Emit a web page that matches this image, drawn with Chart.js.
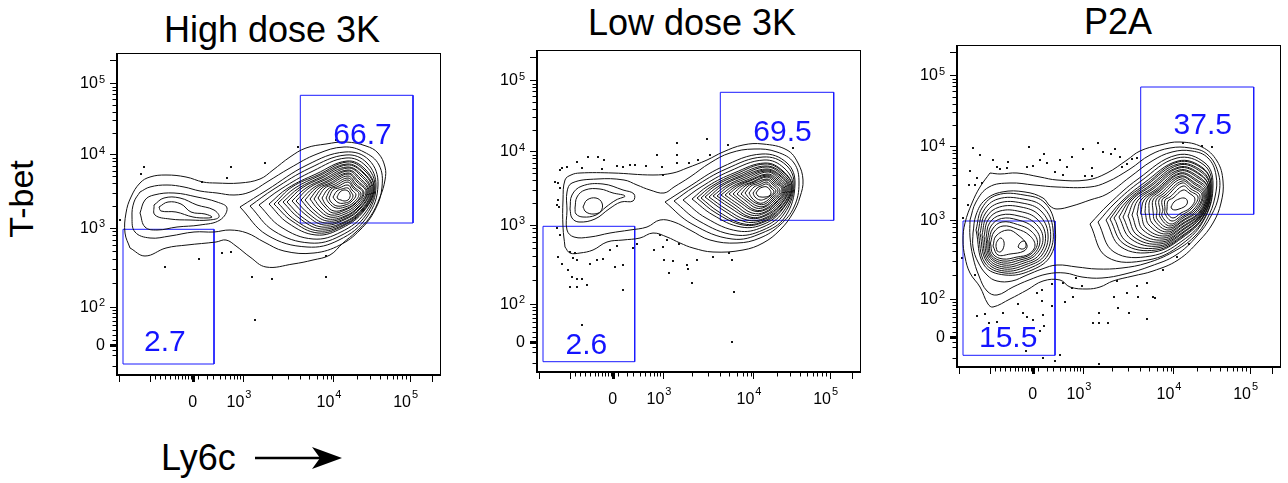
<!DOCTYPE html>
<html>
<head>
<meta charset="utf-8">
<title>T-bet vs Ly6c</title>
<script src="https://cdn.jsdelivr.net/npm/chart.js@4.4.1/dist/chart.umd.min.js"></script>
<style>
  html, body { margin: 0; padding: 0; background: #fff; }
  body { width: 1288px; height: 483px; position: relative; overflow: hidden; font-family: "Liberation Sans", Arial, Helvetica, sans-serif; color: #000; }
  .title { position: absolute; font-size: 36px; line-height: 36px; white-space: nowrap; transform: translateX(-50%); }
  .ylab { position: absolute; left: 21px; top: 199px; font-size: 34px; line-height: 34px; white-space: nowrap; transform: translate(-50%, -50%) rotate(-90deg); }
  .xlab { position: absolute; left: 161px; top: 440px; font-size: 36px; line-height: 36px; white-space: nowrap; }
  canvas { position: absolute; }
</style>
</head>
<body>
<div class="title" style="left:272px;top:12px">High dose 3K</div>
<div class="title" style="left:692px;top:5px">Low dose 3K</div>
<div class="title" style="left:1118px;top:4px">P2A</div>
<div class="ylab">T-bet</div>
<div class="xlab">Ly6c</div>
<svg style="position:absolute;left:250px;top:445px" width="95" height="28">
  <line x1="5" y1="13" x2="70" y2="13" stroke="#000" stroke-width="2.5"/>
  <polygon points="92,13 62,2 70,13 62,24" fill="#000"/>
</svg>
<canvas id="hd" width="391" height="372" style="left:57px;top:48px"></canvas>
<canvas id="ld" width="391" height="372" style="left:477px;top:45px"></canvas>
<canvas id="p2a" width="391" height="372" style="left:897px;top:40px"></canvas>
<script>
// all positions are display channels of the biexponential axes (0..324 across, 0..322 up)

// axis ticks
const xMajorTicks = [2.3, 33, 74.7, 75.7, 76.7, 126.3, 216.3, 293, 314.7];
const xMinorTicks = [38, 43, 48, 53, 58, 61.3, 64.7, 68, 71.3, 73.7, 81.3, 89.7, 96.3, 103, 108, 113, 117, 120.3, 123,
  154.7, 171.3, 183, 192.3, 199.7, 205.7, 210.3, 214, 239.7, 253, 263, 269.7, 275.7, 280.3, 284.7, 288.7];
const xTickLabels = [[75.7, '0', ''], [126.3, '10', '3'], [216.3, '10', '4'], [293, '10', '5']];
const yMajorTicks = [28.8, 30, 31.2, 68.3, 147.5, 220.7, 291.7, 315];
const yMinorTicks = [9, 20, 25, 35, 40, 45, 50, 54.3, 58.3, 61.7, 65, 92.1, 106.1, 116, 123.7, 129.9, 135.2, 139.8, 143.9,
  169.5, 182.4, 191.6, 198.7, 204.5, 209.4, 213.6, 217.3, 242.1, 254.6, 263.4, 270.3, 275.9, 280.7, 284.8, 288.4];
const yTickLabels = [[30, '0', ''], [68.3, '10', '2'], [147.5, '10', '3'], [220.7, '10', '4'], [291.7, '10', '5']];

// ---- High dose 3K ----
const hdOuter = [
  [[13,127],[8,142],[9,162],[14,178],[23,192],[33,198],[49,200],[69,198],[86,193],[99,192],[123,192],[143,196],[156,205],[173,218],[189,227],[209,231],[229,233],[249,229],[261,222],[268,208],[268,195],[263,178],[253,158],[239,143],[226,132],[213,120],[196,115],[176,111],[149,108],[133,118],[119,129],[109,135],[99,133],[70,130],[49,127],[28,119]],
  [[23,183],[33,188],[50,190],[67,188],[83,184],[100,182],[117,180],[133,183],[150,193],[173,207],[200,221],[227,228],[247,223],[262,210],[265,188],[258,165],[243,145],[223,130],[197,122],[167,124],[147,133],[130,142],[113,145],[97,143],[77,143],[53,139],[33,137],[18,143],[15,158],[17,173]]
];
const hdLeft = [
  [[23,162],[28,175],[37,180],[57,182],[80,178],[100,173],[110,167],[103,155],[83,150],[60,148],[40,145],[28,148]],
  [[37,170],[47,177],[63,177],[80,170],[97,165],[102,158],[92,155],[73,155],[53,156],[38,160]],
  [[42,168],[51,173],[64,171],[74,163],[88,161],[95,158],[90,157],[76,158],[59,163],[44,164]]
];
const hdRight = [
  [[123,168],[150,185],[190,210],[228,223],[252,215],[261,190],[250,158],[222,135],[190,128],[150,140]],
  [[133,169],[157,186],[193,207],[229,220],[250,212],[259,189],[249,160],[223,139],[193,132],[157,144]],
  [[142,170],[164,186],[196,204],[229,217],[249,209],[258,188],[248,162],[224,143],[196,136],[164,148]],
  [[152,171],[171,187],[199,201],[230,214],[248,206],[257,187],[247,164],[225,147],[199,140],[171,152]],
  [[157,171],[175,188],[201,200],[230,213],[247,205],[257,187],[247,165],[226,149],[201,142],[175,154]],
  [[161,172],[178,187],[202,199],[230,211],[246,203],[256,186],[246,165],[226,150],[202,144],[178,155]],
  [[166,173],[182,187],[204,198],[230,210],[246,202],[255,186],[246,166],[227,152],[204,146],[182,157]],
  [[170,173],[185,187],[205,197],[230,208],[245,200],[254,185],[245,166],[227,153],[205,148],[185,158]],
  [[175,174],[189,187],[207,196],[231,207],[244,199],[253,185],[244,167],[227,155],[207,150],[189,160]],
  [[179,174],[192,187],[208,195],[231,205],[243,197],[252,184],[243,167],[227,156],[208,152],[192,161]],
  [[184,175],[196,187],[210,194],[231,204],[242,196],[251,184],[242,168],[228,158],[210,154],[195,163]],
  [[188,175],[199,187],[211,193],[231,202],[241,194],[250,183],[241,168],[228,159],[211,156],[198,164]],
  [[193,176],[202,187],[213,192],[231,201],[240,193],[249,183],[240,169],[228,161],[213,158],[201,166]],
  [[197,176],[205,187],[214,191],[231,199],[239,191],[247,182],[239,170],[228,163],[214,160],[204,167]],
  [[201,177],[208,187],[216,190],[231,197],[238,190],[246,182],[238,171],[228,165],[216,162],[207,169]],
  [[205,177],[211,186],[218,189],[231,195],[237,188],[244,181],[237,171],[228,166],[217,164],[209,170]],
  [[209,177],[214,186],[220,188],[231,193],[236,187],[242,181],[236,172],[228,168],[219,167],[212,172]],
  [[212,177],[216,185],[222,187],[231,190],[235,185],[239,180],[234,173],[228,170],[220,169],[214,173]],
  [[216,178],[220,184],[225,186],[231,187],[234,183],[236,179],[233,174],[228,172],[222,172],[218,175]],
  [[220,178],[223,183],[227,185],[231,184],[233,181],[233,178],[231,175],[227,174],[224,175],[221,176]]
];
const hdDots = [[27,208],[24,201],[3,155],[85,193],[114,208],[110,197],[148,212],[181,228],[219,235],[105,122],[114,123],[82,116],[48,108],[135,98],[155,96],[209,98],[209,119],[138,55]];
const hdGates = [[183.3,152,296,279.7],[6,11,97,145.7]];
const hdLabels = [[245.5,242.5,'66.7'],[47.8,35,'2.7']];

// ---- Low dose 3K ----
const ldOuter = [
  [[28,125],[26,145],[26,172],[28,192],[34,197],[43,199],[76,199],[116,197],[136,199],[150,204],[170,212],[186,220],[206,227],[226,228],[250,222],[261,209],[266,192],[263,175],[256,159],[243,142],[226,129],[206,122],[176,120],[156,124],[143,129],[130,135],[116,139],[103,134],[86,132],[70,130],[56,122],[43,119],[33,119]],
  [[30,162],[30,180],[35,189],[60,193],[87,192],[100,187],[113,182],[127,179],[137,185],[153,195],[173,209],[193,219],[217,223],[240,220],[257,209],[262,189],[257,165],[243,147],[223,134],[200,129],[173,132],[153,142],[137,150],[123,152],[110,145],[93,142],[73,139],[53,135],[37,135],[30,142]]
];
const ldLeft = [
  [[33,163],[35,177],[45,186],[66,188],[86,182],[97,178],[96,171],[84,170],[72,163],[58,153],[42,150],[35,154]],
  [[38,164],[40,175],[48,182],[63,183],[76,179],[88,176],[79,172],[69,165],[59,157],[46,155],[39,158]],
  [[46,165],[50,172],[59,174],[65,169],[64,161],[57,158],[49,160]]
];
const ldRight = [
  [[128,170],[150,184],[185,205],[225,218],[250,209],[258,188],[248,155],[225,139],[195,133],[155,148]],
  [[137,171],[157,185],[189,203],[226,215],[249,207],[257,187],[247,158],[226,142],[198,137],[162,151]],
  [[146,172],[164,185],[193,201],[227,212],[247,204],[256,186],[246,160],[226,145],[201,141],[169,154]],
  [[155,173],[171,186],[197,199],[228,209],[246,201],[255,185],[245,162],[227,148],[204,145],[176,157]],
  [[160,174],[175,186],[199,198],[228,208],[246,200],[255,185],[245,163],[227,150],[206,147],[179,159]],
  [[164,174],[178,186],[201,197],[228,206],[245,199],[254,184],[244,164],[227,151],[207,148],[182,160]],
  [[168,175],[182,186],[203,196],[229,205],[244,198],[253,184],[244,165],[228,153],[209,150],[186,162]],
  [[172,175],[185,186],[204,195],[229,203],[243,197],[252,184],[243,166],[228,154],[210,152],[189,163]],
  [[176,176],[189,186],[206,194],[229,202],[243,196],[251,184],[243,167],[228,156],[212,154],[192,165]],
  [[180,176],[192,186],[208,193],[229,201],[242,195],[250,183],[242,168],[228,157],[213,155],[195,166]],
  [[184,177],[196,186],[210,192],[230,200],[241,194],[249,183],[241,169],[228,159],[214,157],[198,167]],
  [[188,177],[199,186],[211,191],[230,198],[240,193],[248,182],[240,170],[228,160],[215,159],[201,168]],
  [[192,178],[202,186],[213,191],[230,197],[239,192],[247,182],[239,170],[228,162],[217,161],[204,169]],
  [[196,178],[205,186],[215,190],[230,196],[238,191],[246,182],[238,171],[228,163],[218,162],[206,170]],
  [[200,178],[208,186],[217,190],[230,195],[237,190],[245,182],[237,172],[228,165],[219,164],[209,171]],
  [[204,178],[211,186],[218,189],[230,193],[236,189],[243,181],[236,173],[228,166],[220,166],[211,172]],
  [[208,179],[214,186],[220,188],[230,192],[235,188],[241,181],[235,174],[228,168],[221,168],[213,173]],
  [[212,179],[217,185],[222,187],[230,190],[234,186],[239,181],[234,175],[228,170],[222,169],[215,174]],
  [[216,179],[220,184],[224,186],[230,188],[234,184],[237,180],[233,176],[228,173],[223,172],[218,175]],
  [[219,179],[222,183],[226,185],[230,185],[233,182],[234,179],[232,176],[228,175],[224,175],[221,176]]
];
const ldDots = [[18,190],[23,202],[25,204],[30,205],[40,210],[51,215],[61,215],[67,212],[45,204],[65,203],[80,206],[86,205],[93,207],[98,207],[109,206],[120,217],[140,229],[140,217],[125,205],[126,197],[140,209],[152,209],[161,212],[170,233],[173,217],[191,227],[256,224],[21,189],[23,184],[21,172],[20,167],[22,165],[20,144],[23,137],[33,120],[38,119],[36,114],[40,112],[21,115],[25,108],[31,102],[35,95],[40,93],[45,93],[50,87],[33,85],[40,85],[53,108],[60,112],[66,113],[78,105],[86,107],[86,82],[45,47],[73,122],[80,126],[96,124],[100,128],[117,122],[126,125],[123,137],[130,132],[142,128],[127,112],[136,111],[132,99],[150,107],[151,103],[160,112],[155,89],[176,115],[192,119],[195,112],[197,80],[195,30]];
const ldGates = [[183.3,151.7,296.7,279.7],[6,10.3,97.7,145.7]];
const ldLabels = [[245.5,242,'69.5'],[49.3,29.5,'2.6']];

// ---- P2A ----
const p2aOuter = [
  [[33,194],[43,193],[60,194],[83,190],[100,187],[130,187],[150,194],[170,207],[183,216],[203,222],[223,225],[245,220],[260,206],[266,186],[264,164],[256,144],[242,126],[221,107],[196,96],[176,91],[156,86],[143,80],[130,78],[113,80],[103,87],[86,86],[70,77],[53,68],[36,60],[31,63],[23,80],[13,94],[8,110],[6,127],[8,144],[15,164],[23,180]],
  [[13,147],[19,165],[32,180],[53,184],[77,182],[100,180],[133,180],[150,185],[173,198],[193,212],[213,219],[233,219],[250,213],[261,195],[262,173],[254,151],[240,131],[219,112],[194,101],[168,93],[145,89],[125,90],[108,94],[90,93],[72,87],[56,80],[40,72],[30,76],[22,91],[16,110],[13,130]],
  [[16,134],[19,152],[28,167],[45,175],[68,175],[86,169],[93,161],[100,158],[115,161],[133,167],[150,173],[173,190],[195,206],[215,215],[235,216],[251,209],[259,192],[258,170],[250,148],[237,130],[216,115],[190,104],[165,99],[140,98],[120,100],[100,102],[85,98],[70,92],[55,86],[40,86],[30,92],[21,105],[16,120]]
];
const p2aLeft = [
  [[19,137],[25,159],[40,172],[67,172],[88,164],[98,140],[94,112],[75,97],[48,92],[27,102]],
  [[21,135],[26.5,156],[41,168],[66,168],[86,160],[96,138],[91,112],[73,99],[48,94],[28,104]],
  [[23,133.5],[28,153],[42,164],[65,164],[84,156],[93.5,135.5],[88,112],[71,101],[47.5,96],[29.5,105.5]],
  [[25,132],[29.5,150],[42.5,160],[64,160],[82,152],[91,133],[85,112],[69,102.5],[47.5,98],[30.5,107]],
  [[27,130.5],[31,147],[43,156],[63,155.5],[80,148],[88.5,131],[82,112],[67,104],[47,100],[31.5,108.5]],
  [[29,129],[32.5,144],[44,152],[62,151],[78,144],[86,129],[79,112.5],[65,105.5],[47,102],[32.5,110]],
  [[30.5,127.5],[34,141],[44.5,148.5],[61,147],[76,140],[83,127],[76.5,112.5],[63,107],[46.5,104],[33.5,111]],
  [[32,126],[35.5,138],[45,145],[60.5,142.5],[74,136],[80.5,124.5],[74,113],[61.5,108.5],[46,106],[34.5,112]],
  [[33.5,124],[37,135],[46,141],[60,138],[72,132],[78,122],[72,113],[60,110],[46,108],[36,113]],
  [[36,121],[39,131],[51,137],[61,132],[70,122],[67,116],[53,113],[41,112]],
  [[40,116],[39,122],[41,127],[44,129],[47,125],[46,118],[43,115]],
  [[61,120],[63,124],[67,126],[69,123],[68,119],[64,118]]
];
const p2aRight = [
  [[133,143],[152,163],[181,188],[220,212],[248,204],[256,183],[248,149],[225,123],[191,107],[150,110]],
  [[141,145],[158,164],[184,186],[220,209],[247,202],[255,182],[248,150],[225,126],[194,111],[157,115]],
  [[149,147],[164,165],[187,184],[221,206],[246,199],[254,181],[247,151],[225,129],[197,115],[164,120]],
  [[153,148],[167,166],[189,183],[221,205],[246,198],[254,181],[247,152],[226,131],[199,117],[167,123]],
  [[157,149],[170,166],[190,182],[221,203],[245,196],[253,180],[247,152],[226,132],[200,119],[170,125]],
  [[162,150],[173,167],[192,181],[222,202],[244,195],[253,180],[246,153],[226,134],[202,121],[174,128]],
  [[166,150],[175,167],[193,180],[222,200],[243,193],[252,179],[246,153],[226,135],[203,123],[177,130]],
  [[171,151],[178,167],[195,179],[222,199],[243,192],[252,179],[246,154],[226,137],[205,125],[180,132]],
  [[175,152],[181,167],[196,178],[222,197],[242,190],[251,178],[245,154],[226,138],[206,127],[183,134]],
  [[180,153],[184,167],[198,177],[223,196],[241,189],[251,178],[245,155],[226,140],[207,129],[186,137]],
  [[184,154],[187,167],[199,176],[223,194],[240,187],[250,177],[244,155],[226,141],[208,131],[189,139]],
  [[188,155],[190,167],[201,176],[223,193],[239,186],[249,176],[244,156],[226,143],[209,133],[192,142]],
  [[192,155],[193,167],[202,175],[223,191],[238,184],[248,175],[243,156],[226,144],[210,135],[195,144]],
  [[196,156],[196,167],[204,174],[224,190],[237,183],[247,174],[242,157],[226,146],[211,137],[198,146]],
  [[200,156],[199,167],[206,173],[224,188],[236,181],[246,173],[240,157],[226,147],[212,139],[200,148]],
  [[203,157],[202,167],[208,172],[225,186],[235,180],[245,172],[239,158],[226,149],[213,141],[203,150]],
  [[206,157],[205,167],[210,171],[225,184],[234,178],[243,171],[237,158],[225,150],[214,143],[205,151]],
  [[208,158],[208,167],[213,170],[226,181],[233,176],[241,170],[235,159],[225,152],[215,146],[208,153]],
  [[210,158],[211,166],[216,169],[226,177],[232,174],[238,168],[233,159],[224,154],[216,149],[210,154]],
  [[214,160],[217,165],[222,168],[227,169],[230,167],[230,163],[227,160],[222,158],[218,157],[215,158]]
];
const p2aDots = [[16,219],[23,212],[13,196],[36,207],[40,200],[43,198],[51,205],[50,199],[72,220],[70,200],[76,201],[83,207],[87,213],[90,204],[98,195],[103,207],[106,192],[110,200],[115,210],[126,218],[128,191],[135,191],[135,199],[141,224],[146,215],[154,213],[158,218],[163,210],[165,200],[170,203],[175,208],[180,209],[226,224],[245,221],[255,220],[12,182],[20,189],[25,184],[18,182],[5,109],[6,149],[11,162],[18,92],[20,51],[28,53],[32,44],[40,45],[46,54],[61,63],[66,54],[70,50],[76,47],[80,74],[85,77],[85,66],[86,52],[87,41],[83,36],[69,16],[86,9],[98,6],[103,12],[95,83],[95,61],[106,84],[108,65],[116,70],[119,89],[125,81],[115,79],[136,44],[142,54],[142,44],[151,44],[142,3],[157,70],[161,59],[170,74],[172,54],[180,81],[181,70],[190,84],[190,48],[196,70],[198,69],[160,86],[206,97],[220,110],[232,123]];
const p2aGates = [[183.7,152.7,296.7,280],[6,11.7,98,146]];
const p2aLabels = [[245.8,243.7,'37.5'],[51.2,31,'15.5']];

const FONT = '"Liberation Sans", Arial, Helvetica, sans-serif';

function ringSets(rings) {
  return rings.map(r => ({
    data: r.concat([r[0]]).map(([x, y]) => ({ x, y })),
    showLine: true, fill: false, tension: 0.4,
    borderColor: '#111', borderWidth: 1, pointRadius: 0
  }));
}

function gateSets(gates) {
  return gates.map(([x1, y1, x2, y2]) => ({
    data: [{ x: x1, y: y1 }, { x: x1, y: y2 }, { x: x2, y: y2 }, { x: x2, y: y1 }, { x: x1, y: y1 }],
    showLine: true, fill: false, tension: 0,
    borderColor: '#1a1aff', borderWidth: 1, pointRadius: 0
  }));
}

function drawLabel(ctx, base, sup, px, baseY, supY, anchor) {
  ctx.font = '16px ' + FONT;
  const wb = ctx.measureText(base).width;
  ctx.font = '11px ' + FONT;
  const ws = sup ? ctx.measureText(sup).width : 0;
  let left;
  if (anchor === 'right') left = px - wb - ws - (sup ? 1 : 0);
  else if (sup) left = px - wb + 1;
  else left = px - wb / 2;
  ctx.font = '16px ' + FONT;
  ctx.fillText(base, left, baseY);
  if (sup) {
    ctx.font = '11px ' + FONT;
    ctx.fillText(sup, left + wb + 1, supY);
  }
}

const flowAxes = {
  id: 'flowAxes',
  afterDatasetsDraw(chart) {
    const { ctx, chartArea: a, scales: { x, y } } = chart;
    ctx.save();
    ctx.strokeStyle = '#000';
    ctx.fillStyle = '#000';
    ctx.lineWidth = 1;
    ctx.strokeRect(a.left + 0.5, a.top + 0.5, a.right - a.left - 1, a.bottom - a.top - 1);
    ctx.lineWidth = 2;
    ctx.beginPath();
    ctx.moveTo(a.left, a.top);
    ctx.lineTo(a.left, a.bottom);
    ctx.lineTo(a.right, a.bottom);
    ctx.stroke();

    ctx.lineWidth = 1;
    ctx.beginPath();
    const xt = (v, len) => {
      const p = Math.round(x.getPixelForValue(v)) + 0.5;
      ctx.moveTo(p, a.bottom); ctx.lineTo(p, a.bottom + len);
    };
    const yt = (v, len) => {
      const p = Math.round(y.getPixelForValue(v)) + 0.5;
      ctx.moveTo(a.left, p); ctx.lineTo(a.left - len, p);
    };
    xMajorTicks.forEach(v => xt(v, 7));
    xMinorTicks.forEach(v => xt(v, 4.5));
    yMajorTicks.forEach(v => yt(v, 7));
    yMinorTicks.forEach(v => yt(v, 4.5));
    ctx.stroke();

    ctx.textBaseline = 'alphabetic';
    ctx.textAlign = 'left';
    xTickLabels.forEach(([v, b, s]) => {
      drawLabel(ctx, b, s, x.getPixelForValue(v), a.bottom + 32, a.bottom + 23, 'tick');
    });
    yTickLabels.forEach(([v, b, s]) => {
      const p = y.getPixelForValue(v);
      drawLabel(ctx, b, s, a.left - 12, p + 5, p - 0.5, 'right');
    });
    ctx.restore();
  }
};

function gateText(labels) {
  return {
    id: 'gateText',
    afterDatasetsDraw(chart) {
      const { ctx, scales: { x, y } } = chart;
      ctx.save();
      ctx.font = '30px ' + FONT;
      ctx.fillStyle = '#1414ff';
      ctx.textAlign = 'center';
      ctx.textBaseline = 'alphabetic';
      labels.forEach(([vx, vy, t]) => ctx.fillText(t, x.getPixelForValue(vx), y.getPixelForValue(vy) + 11));
      ctx.restore();
    }
  };
}

function makePanel(id, rings, dots, gates, labels) {
  const datasets = ringSets(rings).concat(gateSets(gates), [{
    data: dots.map(([x, y]) => ({ x, y })),
    showLine: false, pointStyle: 'rect', pointRadius: 1.3,
    backgroundColor: '#000', borderWidth: 0
  }]);
  new Chart(document.getElementById(id), {
    type: 'scatter',
    data: { datasets },
    options: {
      responsive: false, maintainAspectRatio: false, animation: false, devicePixelRatio: 1, events: [],
      layout: { padding: { left: 60, right: 7, top: 5, bottom: 45 } },
      plugins: { legend: { display: false }, tooltip: { enabled: false } },
      scales: {
        x: { type: 'linear', min: 0, max: 324, display: false },
        y: { type: 'linear', min: 0, max: 322, display: false }
      }
    },
    plugins: [flowAxes, gateText(labels)]
  });
}

makePanel('hd', hdOuter.concat(hdLeft, hdRight), hdDots, hdGates, hdLabels);
makePanel('ld', ldOuter.concat(ldLeft, ldRight), ldDots, ldGates, ldLabels);
makePanel('p2a', p2aOuter.concat(p2aLeft, p2aRight), p2aDots, p2aGates, p2aLabels);
</script>
</body>
</html>
